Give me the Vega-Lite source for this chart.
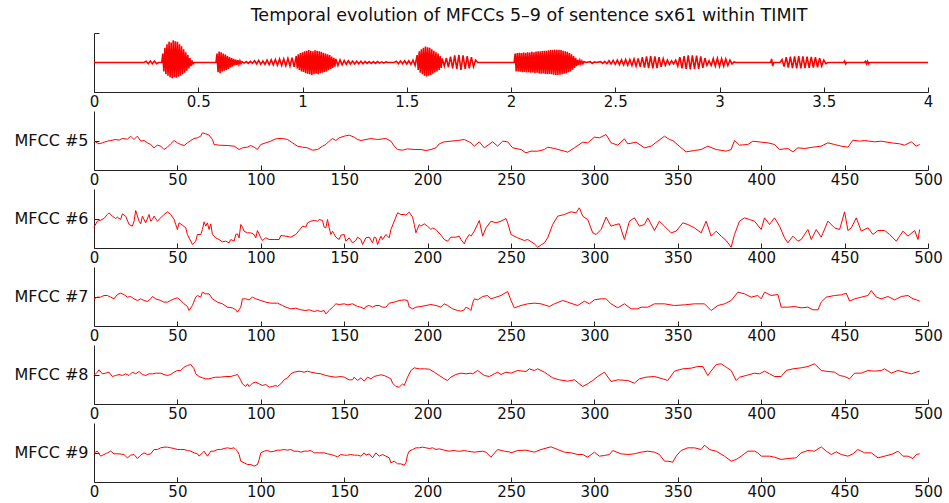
{
"$schema": "https://vega.github.io/schema/vega-lite/v6.json",
"background": "white",
"padding": {"left": 13, "top": 7, "right": 3, "bottom": 0},
"autosize": {"type": "pad"},
"bounds": "flush",
"spacing": 19,
"resolve": {"scale": {"x": "independent", "y": "independent"}},
"config": {
  "view": {"stroke": null},
  "axis": {"grid": false, "domainColor": "#222", "tickColor": "#222", "labelColor": "#111", "labelFont": "DejaVu Sans", "labelFontSize": 15, "tickSize": -5, "labelPadding": 7, "labelFlush": false, "labelOverlap": false, "labelBound": false, "domainWidth": 1, "tickWidth": 1, "title": null},
  "axisY": {"labelPadding": 11, "labelFontSize": 16}
},
"datasets": {
"wave": [
{"t":0,"s":0},{"t":0.24,"s":0},{"t":0.25,"s":0.04},{"t":0.26,"s":-0.04},{"t":0.27,"s":0.05},{"t":0.28,"s":-0.04},{"t":0.29,"s":0.05},{"t":0.30,"s":-0.04},{"t":0.31,"s":0},{"t":0.325,"s":0},
{"t":0.330,"s":0.30},{"t":0.335,"s":-0.30},{"t":0.340,"s":0.50},{"t":0.345,"s":-0.40},{"t":0.350,"s":0.62},{"t":0.355,"s":-0.45},{"t":0.360,"s":0.70},{"t":0.365,"s":-0.50},{"t":0.370,"s":0.68},{"t":0.375,"s":-0.53},{"t":0.380,"s":0.75},{"t":0.385,"s":-0.50},{"t":0.390,"s":0.72},{"t":0.395,"s":-0.52},{"t":0.400,"s":0.70},{"t":0.405,"s":-0.48},{"t":0.410,"s":0.62},{"t":0.415,"s":-0.45},{"t":0.420,"s":0.55},{"t":0.425,"s":-0.40},{"t":0.430,"s":0.45},{"t":0.435,"s":-0.35},{"t":0.440,"s":0.35},{"t":0.445,"s":-0.28},{"t":0.450,"s":0.25},{"t":0.455,"s":-0.20},{"t":0.460,"s":0.15},{"t":0.465,"s":-0.12},{"t":0.470,"s":0.07},{"t":0.475,"s":-0.05},{"t":0.480,"s":0},{"t":0.585,"s":0},
{"t":0.590,"s":0.30},{"t":0.595,"s":-0.33},{"t":0.600,"s":0.37},{"t":0.605,"s":-0.36},{"t":0.610,"s":0.35},{"t":0.615,"s":-0.30},{"t":0.620,"s":0.30},{"t":0.625,"s":-0.28},{"t":0.630,"s":0.27},{"t":0.635,"s":-0.25},{"t":0.640,"s":0.22},{"t":0.645,"s":-0.22},{"t":0.650,"s":0.18},{"t":0.655,"s":-0.17},{"t":0.660,"s":0.15},{"t":0.665,"s":-0.13},{"t":0.670,"s":0.12},{"t":0.675,"s":-0.10},{"t":0.680,"s":0.10},{"t":0.685,"s":-0.08},{"t":0.690,"s":0.08},{"t":0.695,"s":-0.06},{"t":0.700,"s":0.06},{"t":0.705,"s":-0.04},{"t":0.710,"s":0.03},
{"t":0.72,"s":-0.02},{"t":0.73,"s":0.03},{"t":0.74,"s":-0.03},{"t":0.75,"s":0.04},{"t":0.76,"s":-0.03},{"t":0.77,"s":0.06},{"t":0.78,"s":-0.05},{"t":0.79,"s":0.07},{"t":0.80,"s":-0.06},{"t":0.81,"s":0.05},{"t":0.82,"s":-0.06},{"t":0.83,"s":0.08},{"t":0.84,"s":-0.07},{"t":0.85,"s":0.09},{"t":0.86,"s":-0.08},{"t":0.87,"s":0.10},{"t":0.88,"s":-0.09},{"t":0.89,"s":0.12},{"t":0.90,"s":-0.10},{"t":0.91,"s":0.12},{"t":0.92,"s":-0.11},{"t":0.93,"s":0.14},{"t":0.94,"s":-0.12},{"t":0.95,"s":0.16},{"t":0.96,"s":-0.15},{"t":0.97,"s":0.22},
{"t":0.975,"s":-0.20},{"t":0.980,"s":0.28},{"t":0.985,"s":-0.25},{"t":0.990,"s":0.32},{"t":0.995,"s":-0.30},{"t":1.000,"s":0.35},{"t":1.005,"s":-0.32},{"t":1.010,"s":0.38},{"t":1.015,"s":-0.36},{"t":1.020,"s":0.40},{"t":1.025,"s":-0.38},{"t":1.030,"s":0.42},{"t":1.035,"s":-0.40},{"t":1.040,"s":0.40},{"t":1.045,"s":-0.42},{"t":1.050,"s":0.38},{"t":1.055,"s":-0.40},{"t":1.060,"s":0.41},{"t":1.065,"s":-0.38},{"t":1.070,"s":0.40},{"t":1.075,"s":-0.40},{"t":1.080,"s":0.38},{"t":1.085,"s":-0.36},{"t":1.090,"s":0.36},{"t":1.095,"s":-0.35},{"t":1.100,"s":0.33},{"t":1.105,"s":-0.32},{"t":1.110,"s":0.30},{"t":1.115,"s":-0.30},{"t":1.120,"s":0.28},{"t":1.125,"s":-0.26},{"t":1.130,"s":0.25},{"t":1.135,"s":-0.22},{"t":1.140,"s":0.20},{"t":1.145,"s":-0.18},{"t":1.150,"s":0.16},{"t":1.155,"s":-0.14},{"t":1.160,"s":0.12},
{"t":1.17,"s":-0.10},{"t":1.18,"s":0.09},{"t":1.19,"s":-0.08},{"t":1.20,"s":0.07},{"t":1.21,"s":-0.06},{"t":1.22,"s":0.06},{"t":1.23,"s":-0.05},{"t":1.24,"s":0.05},{"t":1.25,"s":-0.05},{"t":1.26,"s":0.04},{"t":1.27,"s":-0.04},{"t":1.28,"s":0.04},{"t":1.29,"s":-0.04},{"t":1.30,"s":0.04},{"t":1.31,"s":-0.03},{"t":1.32,"s":0.03},{"t":1.33,"s":-0.03},{"t":1.34,"s":0.03},{"t":1.35,"s":-0.03},{"t":1.36,"s":0.03},{"t":1.37,"s":-0.02},{"t":1.38,"s":0.02},{"t":1.39,"s":-0.02},{"t":1.40,"s":0.02},{"t":1.41,"s":0},{"t":1.44,"s":0},{"t":1.45,"s":0.04},{"t":1.46,"s":-0.04},{"t":1.47,"s":0.05},{"t":1.48,"s":-0.04},{"t":1.49,"s":0.06},{"t":1.50,"s":-0.05},{"t":1.51,"s":0.06},{"t":1.52,"s":-0.06},{"t":1.53,"s":0.08},{"t":1.54,"s":-0.10},
{"t":1.550,"s":0.25},{"t":1.555,"s":-0.25},{"t":1.560,"s":0.38},{"t":1.565,"s":-0.35},{"t":1.570,"s":0.45},{"t":1.575,"s":-0.40},{"t":1.580,"s":0.50},{"t":1.585,"s":-0.45},{"t":1.590,"s":0.54},{"t":1.595,"s":-0.47},{"t":1.600,"s":0.52},{"t":1.605,"s":-0.45},{"t":1.610,"s":0.50},{"t":1.615,"s":-0.42},{"t":1.620,"s":0.45},{"t":1.625,"s":-0.38},{"t":1.630,"s":0.40},{"t":1.635,"s":-0.34},{"t":1.640,"s":0.35},{"t":1.645,"s":-0.30},{"t":1.650,"s":0.30},{"t":1.655,"s":-0.25},{"t":1.660,"s":0.22},{"t":1.665,"s":-0.18},{"t":1.670,"s":0.14},
{"t":1.68,"s":-0.12},{"t":1.69,"s":0.15},{"t":1.70,"s":-0.16},{"t":1.71,"s":0.20},{"t":1.72,"s":-0.20},{"t":1.73,"s":0.24},{"t":1.74,"s":-0.22},{"t":1.75,"s":0.26},{"t":1.76,"s":-0.25},{"t":1.77,"s":0.24},{"t":1.78,"s":-0.22},{"t":1.79,"s":0.22},{"t":1.80,"s":-0.20},{"t":1.81,"s":0.18},{"t":1.82,"s":-0.14},{"t":1.83,"s":0.08},{"t":1.84,"s":0},{"t":2.015,"s":0},
{"t":2.020,"s":0.30},{"t":2.025,"s":-0.30},{"t":2.030,"s":0.32},{"t":2.035,"s":-0.30},{"t":2.040,"s":0.33},{"t":2.045,"s":-0.31},{"t":2.050,"s":0.32},{"t":2.055,"s":-0.33},{"t":2.060,"s":0.34},{"t":2.065,"s":-0.32},{"t":2.070,"s":0.33},{"t":2.075,"s":-0.34},{"t":2.080,"s":0.35},{"t":2.085,"s":-0.33},{"t":2.090,"s":0.34},{"t":2.095,"s":-0.35},{"t":2.100,"s":0.36},{"t":2.105,"s":-0.34},{"t":2.110,"s":0.35},{"t":2.115,"s":-0.36},{"t":2.120,"s":0.37},{"t":2.125,"s":-0.35},{"t":2.130,"s":0.38},{"t":2.135,"s":-0.37},{"t":2.140,"s":0.38},{"t":2.145,"s":-0.38},{"t":2.150,"s":0.39},{"t":2.155,"s":-0.37},{"t":2.160,"s":0.40},{"t":2.165,"s":-0.39},{"t":2.170,"s":0.40},{"t":2.175,"s":-0.40},{"t":2.180,"s":0.41},{"t":2.185,"s":-0.39},{"t":2.190,"s":0.42},{"t":2.195,"s":-0.40},{"t":2.200,"s":0.42},{"t":2.205,"s":-0.41},{"t":2.210,"s":0.43},{"t":2.215,"s":-0.42},{"t":2.220,"s":0.43},{"t":2.225,"s":-0.42},{"t":2.230,"s":0.43},{"t":2.235,"s":-0.41},{"t":2.240,"s":0.42},{"t":2.245,"s":-0.40},{"t":2.250,"s":0.40},{"t":2.255,"s":-0.38},{"t":2.260,"s":0.38},{"t":2.265,"s":-0.36},{"t":2.270,"s":0.36},{"t":2.275,"s":-0.33},{"t":2.280,"s":0.32},{"t":2.285,"s":-0.30},{"t":2.290,"s":0.28},{"t":2.295,"s":-0.24},{"t":2.300,"s":0.22},{"t":2.305,"s":-0.18},{"t":2.310,"s":0.16},{"t":2.315,"s":-0.12},{"t":2.320,"s":0.10},{"t":2.325,"s":-0.08},{"t":2.330,"s":0.07},{"t":2.335,"s":-0.05},{"t":2.340,"s":0.05},{"t":2.345,"s":-0.04},{"t":2.350,"s":0.03},{"t":2.36,"s":0},
{"t":2.38,"s":0.03},{"t":2.39,"s":-0.03},{"t":2.40,"s":0.02},{"t":2.41,"s":0},{"t":2.43,"s":0.03},{"t":2.44,"s":-0.03},{"t":2.45,"s":0.04},{"t":2.46,"s":-0.04},{"t":2.47,"s":0.06},{"t":2.48,"s":-0.05},{"t":2.49,"s":0.07},{"t":2.50,"s":-0.06},{"t":2.51,"s":0.08},{"t":2.52,"s":-0.07},{"t":2.53,"s":0.09},{"t":2.54,"s":-0.08},{"t":2.55,"s":0.10},{"t":2.56,"s":-0.09},{"t":2.57,"s":0.10},{"t":2.58,"s":-0.10},{"t":2.59,"s":0.12},{"t":2.60,"s":-0.12},{"t":2.61,"s":0.14},{"t":2.62,"s":-0.15},{"t":2.63,"s":0.18},{"t":2.64,"s":-0.17},{"t":2.65,"s":0.21},{"t":2.66,"s":-0.19},{"t":2.67,"s":0.22},{"t":2.68,"s":-0.20},{"t":2.69,"s":0.21},{"t":2.70,"s":-0.19},{"t":2.71,"s":0.18},{"t":2.72,"s":-0.15},{"t":2.73,"s":0.13},{"t":2.74,"s":-0.10},{"t":2.75,"s":0.08},{"t":2.76,"s":-0.07},{"t":2.77,"s":0.06},{"t":2.78,"s":-0.05},{"t":2.79,"s":0.08},
{"t":2.80,"s":-0.12},{"t":2.81,"s":0.18},{"t":2.82,"s":-0.20},{"t":2.83,"s":0.22},{"t":2.84,"s":-0.22},{"t":2.85,"s":0.24},{"t":2.86,"s":-0.23},{"t":2.87,"s":0.24},{"t":2.88,"s":-0.22},{"t":2.89,"s":0.23},{"t":2.90,"s":-0.22},{"t":2.91,"s":0.21},{"t":2.92,"s":-0.18},{"t":2.93,"s":0.15},{"t":2.94,"s":-0.10},{"t":2.95,"s":0.06},{"t":2.96,"s":-0.10},{"t":2.97,"s":0.13},{"t":2.98,"s":-0.12},{"t":2.99,"s":0.14},{"t":3.00,"s":-0.13},{"t":3.01,"s":0.13},{"t":3.02,"s":-0.12},{"t":3.03,"s":0.12},{"t":3.04,"s":-0.10},{"t":3.05,"s":0.08},{"t":3.06,"s":-0.05},{"t":3.07,"s":0.02},{"t":3.08,"s":0},
{"t":3.245,"s":0},{"t":3.25,"s":0.12},{"t":3.255,"s":-0.12},{"t":3.26,"s":0},{"t":3.29,"s":0},{"t":3.30,"s":0.10},{"t":3.31,"s":-0.14},{"t":3.32,"s":0.18},{"t":3.33,"s":-0.17},{"t":3.34,"s":0.20},{"t":3.35,"s":-0.19},{"t":3.36,"s":0.21},{"t":3.37,"s":-0.20},{"t":3.38,"s":0.22},{"t":3.39,"s":-0.20},{"t":3.40,"s":0.21},{"t":3.41,"s":-0.19},{"t":3.42,"s":0.20},{"t":3.43,"s":-0.18},{"t":3.44,"s":0.19},{"t":3.45,"s":-0.17},{"t":3.46,"s":0.18},{"t":3.47,"s":-0.16},{"t":3.48,"s":0.15},{"t":3.49,"s":-0.12},{"t":3.50,"s":0.08},{"t":3.51,"s":-0.04},{"t":3.52,"s":0},
{"t":3.595,"s":0},{"t":3.60,"s":0.05},{"t":3.605,"s":-0.05},{"t":3.61,"s":0},{"t":3.695,"s":0},{"t":3.70,"s":0.04},{"t":3.705,"s":-0.04},{"t":3.71,"s":0.04},{"t":3.715,"s":-0.04},{"t":3.72,"s":0},{"t":4,"s":0}
],
"m5": [
{"f":0,"v":-2},{"f":3,"v":-10},{"f":5,"v":-7},{"f":8,"v":-2},{"f":10,"v":0},{"f":13,"v":3},{"f":15,"v":1},{"f":17,"v":6},{"f":20,"v":4},{"f":22,"v":13},{"f":24,"v":3},{"f":26,"v":13},{"f":28,"v":-2},{"f":30,"v":0},{"f":32,"v":-7},{"f":34,"v":-12},{"f":36,"v":-22},{"f":38,"v":-14},{"f":40,"v":-17},{"f":42,"v":-27},{"f":44,"v":-20},{"f":46,"v":-10},{"f":48,"v":0},{"f":50,"v":-7},{"f":52,"v":-12},{"f":54,"v":-15},{"f":56,"v":-7},{"f":58,"v":0},{"f":60,"v":6},{"f":62,"v":8},{"f":64,"v":13},{"f":65,"v":23},{"f":67,"v":20},{"f":69,"v":16},{"f":71,"v":3},{"f":72,"v":-12},{"f":75,"v":-14},{"f":80,"v":-15},{"f":84,"v":-17},{"f":87,"v":-27},{"f":89,"v":-22},{"f":92,"v":-20},{"f":94,"v":-15},{"f":96,"v":-20},{"f":98,"v":-27},{"f":100,"v":-12},{"f":103,"v":-7},{"f":106,"v":-2},{"f":108,"v":3},{"f":110,"v":6},{"f":113,"v":6},{"f":116,"v":3},{"f":119,"v":-7},{"f":122,"v":-17},{"f":125,"v":-20},{"f":128,"v":-22},{"f":131,"v":-29},{"f":134,"v":-27},{"f":137,"v":-17},{"f":139,"v":-12},{"f":141,"v":-2},{"f":143,"v":6},{"f":145,"v":0},{"f":147,"v":8},{"f":150,"v":13},{"f":153,"v":16},{"f":156,"v":10},{"f":158,"v":3},{"f":160,"v":0},{"f":163,"v":3},{"f":166,"v":6},{"f":170,"v":3},{"f":175,"v":6},{"f":178,"v":-2},{"f":180,"v":-17},{"f":182,"v":-27},{"f":185,"v":-29},{"f":188,"v":-25},{"f":192,"v":-27},{"f":196,"v":-27},{"f":199,"v":-30},{"f":202,"v":-27},{"f":205,"v":-22},{"f":207,"v":-10},{"f":210,"v":-4},{"f":214,"v":-2},{"f":218,"v":0},{"f":222,"v":3},{"f":224,"v":-2},{"f":226,"v":-7},{"f":228,"v":-17},{"f":231,"v":-4},{"f":234,"v":-22},{"f":239,"v":-4},{"f":242,"v":-17},{"f":245,"v":-2},{"f":248,"v":-4},{"f":251,"v":-22},{"f":256,"v":-27},{"f":259,"v":-37},{"f":262,"v":-32},{"f":266,"v":-32},{"f":270,"v":-27},{"f":272,"v":-20},{"f":276,"v":-24},{"f":282,"v":-32},{"f":284,"v":-35},{"f":288,"v":-22},{"f":293,"v":-5},{"f":296,"v":-7},{"f":300,"v":10},{"f":303,"v":8},{"f":307,"v":18},{"f":310,"v":-7},{"f":314,"v":-14},{"f":318,"v":5},{"f":320,"v":-10},{"f":325,"v":-5},{"f":330,"v":-22},{"f":334,"v":-17},{"f":338,"v":-2},{"f":342,"v":13},{"f":345,"v":3},{"f":347,"v":0},{"f":352,"v":-22},{"f":355,"v":-34},{"f":360,"v":-30},{"f":364,"v":-27},{"f":368,"v":-17},{"f":373,"v":-27},{"f":379,"v":-32},{"f":382,"v":-27},{"f":384,"v":0},{"f":387,"v":-14},{"f":392,"v":-12},{"f":395,"v":-2},{"f":400,"v":-5},{"f":404,"v":-7},{"f":408,"v":-12},{"f":411,"v":-27},{"f":416,"v":-24},{"f":419,"v":-34},{"f":422,"v":-22},{"f":426,"v":-24},{"f":431,"v":-20},{"f":436,"v":-17},{"f":440,"v":-7},{"f":444,"v":-12},{"f":448,"v":-17},{"f":452,"v":-20},{"f":455,"v":1},{"f":459,"v":-2},{"f":462,"v":0},{"f":468,"v":-4},{"f":472,"v":-2},{"f":478,"v":-7},{"f":483,"v":-10},{"f":486,"v":-14},{"f":490,"v":-4},{"f":493,"v":-17},{"f":495,"v":-12}
],
"m6": [
{"f":0,"v":-26},{"f":2,"v":-8},{"f":4,"v":-5},{"f":6,"v":0},{"f":8,"v":12},{"f":9,"v":17},{"f":11,"v":7},{"f":13,"v":0},{"f":14,"v":4},{"f":16,"v":-3},{"f":17,"v":14},{"f":19,"v":7},{"f":21,"v":-18},{"f":23,"v":-23},{"f":24,"v":-8},{"f":25,"v":24},{"f":27,"v":-8},{"f":28,"v":-16},{"f":29,"v":7},{"f":31,"v":-13},{"f":33,"v":12},{"f":34,"v":-8},{"f":35,"v":-3},{"f":36,"v":7},{"f":38,"v":-8},{"f":40,"v":2},{"f":42,"v":12},{"f":44,"v":20},{"f":46,"v":12},{"f":48,"v":-3},{"f":49,"v":-18},{"f":50,"v":-33},{"f":51,"v":-13},{"f":53,"v":-20},{"f":55,"v":-28},{"f":56,"v":-48},{"f":58,"v":-68},{"f":59,"v":-78},{"f":61,"v":-68},{"f":62,"v":-48},{"f":64,"v":-48},{"f":65,"v":-33},{"f":66,"v":-10},{"f":67,"v":-23},{"f":68,"v":-13},{"f":69,"v":-33},{"f":70,"v":-16},{"f":71,"v":-48},{"f":73,"v":-58},{"f":75,"v":-63},{"f":77,"v":-70},{"f":79,"v":-68},{"f":81,"v":-73},{"f":82,"v":-63},{"f":84,"v":-68},{"f":85,"v":-48},{"f":86,"v":-46},{"f":87,"v":-58},{"f":88,"v":-18},{"f":89,"v":-26},{"f":90,"v":-38},{"f":92,"v":-43},{"f":94,"v":-43},{"f":96,"v":-48},{"f":97,"v":-58},{"f":98,"v":-36},{"f":100,"v":-58},{"f":101,"v":-66},{"f":103,"v":-58},{"f":105,"v":-63},{"f":108,"v":-63},{"f":111,"v":-63},{"f":112,"v":-51},{"f":115,"v":-53},{"f":118,"v":-56},{"f":121,"v":-48},{"f":123,"v":-36},{"f":125,"v":-23},{"f":127,"v":-26},{"f":128,"v":-13},{"f":130,"v":-8},{"f":132,"v":-6},{"f":134,"v":-8},{"f":135,"v":-3},{"f":137,"v":-6},{"f":138,"v":-26},{"f":139,"v":-28},{"f":140,"v":-3},{"f":141,"v":-28},{"f":142,"v":-48},{"f":143,"v":-38},{"f":145,"v":-56},{"f":147,"v":-63},{"f":148,"v":-50},{"f":150,"v":-48},{"f":151,"v":-68},{"f":153,"v":-58},{"f":155,"v":-73},{"f":157,"v":-66},{"f":158,"v":-56},{"f":160,"v":-63},{"f":161,"v":-78},{"f":163,"v":-58},{"f":165,"v":-56},{"f":167,"v":-73},{"f":168,"v":-56},{"f":169,"v":-58},{"f":170,"v":-78},{"f":172,"v":-53},{"f":173,"v":-63},{"f":175,"v":-48},{"f":177,"v":-58},{"f":178,"v":-33},{"f":180,"v":-8},{"f":182,"v":17},{"f":184,"v":12},{"f":186,"v":12},{"f":187,"v":10},{"f":189,"v":19},{"f":191,"v":4},{"f":192,"v":-18},{"f":193,"v":-43},{"f":195,"v":-18},{"f":196,"v":-23},{"f":198,"v":-16},{"f":200,"v":-23},{"f":202,"v":-33},{"f":203,"v":-28},{"f":205,"v":-33},{"f":208,"v":-50},{"f":210,"v":-63},{"f":212,"v":-68},{"f":214,"v":-56},{"f":217,"v":-56},{"f":219,"v":-53},{"f":220,"v":-63},{"f":222,"v":-76},{"f":223,"v":-63},{"f":225,"v":-48},{"f":226,"v":-53},{"f":228,"v":-38},{"f":231,"v":-6},{"f":233,"v":-53},{"f":235,"v":-28},{"f":238,"v":-8},{"f":241,"v":-13},{"f":244,"v":-8},{"f":247,"v":0},{"f":248,"v":-13},{"f":250,"v":-48},{"f":254,"v":-58},{"f":258,"v":-66},{"f":260,"v":-63},{"f":264,"v":-76},{"f":266,"v":-86},{"f":270,"v":-73},{"f":272,"v":-58},{"f":275,"v":-18},{"f":278,"v":7},{"f":282,"v":12},{"f":286,"v":20},{"f":289,"v":17},{"f":291,"v":32},{"f":293,"v":7},{"f":296,"v":-3},{"f":299,"v":-43},{"f":301,"v":-48},{"f":304,"v":-33},{"f":307,"v":4},{"f":310,"v":-23},{"f":313,"v":-18},{"f":315,"v":-16},{"f":318,"v":-63},{"f":321,"v":-8},{"f":324,"v":2},{"f":327,"v":-23},{"f":330,"v":-18},{"f":332,"v":2},{"f":336,"v":-36},{"f":339,"v":-8},{"f":342,"v":-23},{"f":346,"v":-43},{"f":349,"v":-38},{"f":353,"v":-13},{"f":356,"v":-18},{"f":360,"v":-28},{"f":364,"v":-43},{"f":367,"v":-8},{"f":370,"v":-53},{"f":373,"v":-38},{"f":376,"v":-53},{"f":379,"v":-66},{"f":382,"v":-86},{"f":384,"v":-48},{"f":387,"v":-8},{"f":390,"v":2},{"f":393,"v":-3},{"f":396,"v":-8},{"f":400,"v":-33},{"f":402,"v":2},{"f":405,"v":-18},{"f":408,"v":2},{"f":411,"v":-23},{"f":414,"v":-58},{"f":416,"v":-73},{"f":419,"v":-53},{"f":422,"v":-68},{"f":424,"v":-63},{"f":428,"v":-33},{"f":430,"v":-63},{"f":433,"v":-33},{"f":436,"v":-56},{"f":440,"v":-8},{"f":444,"v":-28},{"f":447,"v":-33},{"f":450,"v":20},{"f":452,"v":-36},{"f":454,"v":-28},{"f":457,"v":2},{"f":460,"v":-38},{"f":464,"v":-28},{"f":467,"v":-48},{"f":470,"v":-36},{"f":474,"v":-36},{"f":477,"v":-48},{"f":481,"v":-68},{"f":485,"v":-38},{"f":488,"v":-53},{"f":492,"v":-36},{"f":494,"v":-63},{"f":495,"v":-33}
],
"m7": [
{"f":0,"v":-7},{"f":2,"v":-2},{"f":4,"v":-2},{"f":6,"v":3},{"f":8,"v":3},{"f":10,"v":-2},{"f":12,"v":-7},{"f":14,"v":6},{"f":16,"v":10},{"f":18,"v":6},{"f":20,"v":-2},{"f":22,"v":0},{"f":24,"v":-7},{"f":26,"v":-12},{"f":28,"v":-7},{"f":30,"v":-12},{"f":32,"v":-15},{"f":34,"v":-7},{"f":35,"v":0},{"f":37,"v":-7},{"f":40,"v":-12},{"f":42,"v":-17},{"f":44,"v":-17},{"f":46,"v":-12},{"f":48,"v":-7},{"f":50,"v":-4},{"f":52,"v":-12},{"f":54,"v":-22},{"f":56,"v":-30},{"f":57,"v":-42},{"f":59,"v":-27},{"f":61,"v":-2},{"f":62,"v":3},{"f":64,"v":-2},{"f":65,"v":13},{"f":67,"v":8},{"f":69,"v":8},{"f":71,"v":-7},{"f":74,"v":-17},{"f":77,"v":-22},{"f":80,"v":-32},{"f":83,"v":-34},{"f":85,"v":-40},{"f":86,"v":-47},{"f":88,"v":-32},{"f":89,"v":-7},{"f":91,"v":-7},{"f":93,"v":-10},{"f":95,"v":-2},{"f":97,"v":-7},{"f":100,"v":-12},{"f":103,"v":-17},{"f":106,"v":-20},{"f":110,"v":-20},{"f":113,"v":-27},{"f":115,"v":-32},{"f":118,"v":-37},{"f":121,"v":-35},{"f":124,"v":-40},{"f":127,"v":-42},{"f":129,"v":-40},{"f":132,"v":-45},{"f":134,"v":-42},{"f":136,"v":-45},{"f":138,"v":-42},{"f":139,"v":-52},{"f":141,"v":-42},{"f":143,"v":-32},{"f":145,"v":-22},{"f":147,"v":-24},{"f":150,"v":-22},{"f":152,"v":-25},{"f":155,"v":-22},{"f":158,"v":-30},{"f":160,"v":-32},{"f":162,"v":-37},{"f":163,"v":-30},{"f":165,"v":-27},{"f":167,"v":-32},{"f":169,"v":-27},{"f":171,"v":-27},{"f":173,"v":-32},{"f":175,"v":-32},{"f":177,"v":-20},{"f":180,"v":-17},{"f":183,"v":-12},{"f":186,"v":-10},{"f":188,"v":-12},{"f":189,"v":-32},{"f":191,"v":-37},{"f":193,"v":-32},{"f":196,"v":-30},{"f":199,"v":-27},{"f":202,"v":-24},{"f":205,"v":-27},{"f":208,"v":-32},{"f":210,"v":-22},{"f":212,"v":-27},{"f":215,"v":-37},{"f":218,"v":-42},{"f":220,"v":-44},{"f":222,"v":-40},{"f":223,"v":-32},{"f":225,"v":-37},{"f":226,"v":-42},{"f":227,"v":-20},{"f":228,"v":-7},{"f":230,"v":-10},{"f":233,"v":0},{"f":236,"v":3},{"f":238,"v":-7},{"f":241,"v":-2},{"f":244,"v":3},{"f":248,"v":15},{"f":250,"v":-12},{"f":252,"v":-34},{"f":256,"v":-27},{"f":260,"v":-22},{"f":264,"v":-20},{"f":268,"v":-22},{"f":273,"v":-30},{"f":276,"v":-22},{"f":281,"v":-12},{"f":284,"v":-17},{"f":290,"v":-27},{"f":294,"v":-14},{"f":297,"v":-22},{"f":300,"v":-10},{"f":304,"v":-7},{"f":307,"v":-7},{"f":310,"v":-22},{"f":314,"v":-34},{"f":318,"v":-22},{"f":322,"v":-37},{"f":326,"v":-37},{"f":328,"v":-32},{"f":332,"v":-32},{"f":336,"v":-22},{"f":342,"v":-22},{"f":348,"v":-27},{"f":354,"v":-25},{"f":360,"v":-22},{"f":366,"v":-22},{"f":370,"v":-42},{"f":374,"v":-27},{"f":378,"v":-22},{"f":382,"v":-12},{"f":386,"v":13},{"f":390,"v":8},{"f":394,"v":-2},{"f":398,"v":3},{"f":400,"v":-7},{"f":402,"v":13},{"f":406,"v":3},{"f":410,"v":6},{"f":412,"v":-32},{"f":416,"v":-32},{"f":420,"v":-30},{"f":424,"v":-34},{"f":428,"v":-32},{"f":431,"v":-40},{"f":434,"v":-40},{"f":436,"v":-17},{"f":439,"v":-2},{"f":444,"v":3},{"f":448,"v":5},{"f":451,"v":10},{"f":453,"v":-14},{"f":456,"v":-7},{"f":460,"v":-2},{"f":464,"v":3},{"f":466,"v":18},{"f":469,"v":-2},{"f":472,"v":-7},{"f":476,"v":0},{"f":480,"v":-10},{"f":484,"v":0},{"f":488,"v":3},{"f":491,"v":-7},{"f":493,"v":-10},{"f":495,"v":-14}
],
"m8": [
{"f":0,"v":-3},{"f":2,"v":7},{"f":3,"v":14},{"f":5,"v":2},{"f":7,"v":4},{"f":9,"v":7},{"f":11,"v":-6},{"f":13,"v":-3},{"f":15,"v":0},{"f":17,"v":-3},{"f":19,"v":2},{"f":21,"v":-3},{"f":23,"v":7},{"f":25,"v":2},{"f":27,"v":9},{"f":29,"v":0},{"f":31,"v":-3},{"f":33,"v":2},{"f":35,"v":2},{"f":37,"v":4},{"f":40,"v":4},{"f":42,"v":0},{"f":44,"v":-3},{"f":46,"v":0},{"f":48,"v":7},{"f":50,"v":12},{"f":52,"v":12},{"f":54,"v":22},{"f":56,"v":27},{"f":58,"v":30},{"f":60,"v":17},{"f":61,"v":2},{"f":63,"v":-6},{"f":65,"v":-10},{"f":67,"v":-13},{"f":69,"v":-13},{"f":71,"v":-10},{"f":73,"v":-8},{"f":76,"v":-8},{"f":79,"v":-6},{"f":82,"v":-6},{"f":84,"v":-3},{"f":86,"v":0},{"f":87,"v":-8},{"f":88,"v":-18},{"f":89,"v":-28},{"f":91,"v":-36},{"f":92,"v":-28},{"f":93,"v":-36},{"f":95,"v":-26},{"f":97,"v":-23},{"f":99,"v":-28},{"f":101,"v":-33},{"f":103,"v":-30},{"f":105,"v":-38},{"f":107,"v":-36},{"f":109,"v":-33},{"f":110,"v":-36},{"f":112,"v":-28},{"f":114,"v":-16},{"f":116,"v":-10},{"f":118,"v":2},{"f":120,"v":7},{"f":123,"v":10},{"f":126,"v":7},{"f":128,"v":10},{"f":130,"v":7},{"f":133,"v":4},{"f":136,"v":2},{"f":139,"v":-3},{"f":142,"v":-6},{"f":145,"v":-8},{"f":148,"v":-6},{"f":150,"v":-8},{"f":153,"v":-16},{"f":155,"v":-16},{"f":156,"v":-8},{"f":158,"v":-18},{"f":160,"v":-10},{"f":162,"v":-20},{"f":164,"v":-8},{"f":166,"v":-13},{"f":168,"v":-6},{"f":170,"v":-3},{"f":172,"v":-1},{"f":174,"v":-3},{"f":176,"v":-8},{"f":178,"v":-13},{"f":179,"v":-26},{"f":181,"v":-36},{"f":183,"v":-38},{"f":185,"v":-28},{"f":186,"v":-33},{"f":188,"v":-8},{"f":190,"v":12},{"f":192,"v":20},{"f":195,"v":17},{"f":198,"v":17},{"f":201,"v":16},{"f":204,"v":7},{"f":207,"v":-3},{"f":210,"v":-13},{"f":212,"v":-18},{"f":214,"v":-8},{"f":217,"v":0},{"f":220,"v":4},{"f":223,"v":2},{"f":226,"v":4},{"f":227,"v":2},{"f":230,"v":12},{"f":234,"v":-3},{"f":237,"v":-6},{"f":240,"v":2},{"f":242,"v":7},{"f":244,"v":0},{"f":247,"v":7},{"f":250,"v":4},{"f":254,"v":12},{"f":259,"v":9},{"f":261,"v":17},{"f":264,"v":12},{"f":266,"v":17},{"f":270,"v":7},{"f":275,"v":-10},{"f":279,"v":-16},{"f":284,"v":-20},{"f":288,"v":-16},{"f":293,"v":-36},{"f":296,"v":-28},{"f":299,"v":-18},{"f":302,"v":-6},{"f":306,"v":7},{"f":310,"v":-21},{"f":314,"v":-16},{"f":320,"v":-18},{"f":324,"v":-26},{"f":327,"v":-13},{"f":331,"v":-8},{"f":336,"v":-6},{"f":341,"v":-13},{"f":344,"v":-18},{"f":348,"v":10},{"f":353,"v":17},{"f":358,"v":19},{"f":362,"v":24},{"f":365,"v":24},{"f":368,"v":-3},{"f":371,"v":17},{"f":373,"v":30},{"f":376,"v":32},{"f":379,"v":22},{"f":382,"v":12},{"f":385,"v":-18},{"f":387,"v":-8},{"f":391,"v":-3},{"f":396,"v":4},{"f":399,"v":2},{"f":402,"v":10},{"f":405,"v":2},{"f":408,"v":-6},{"f":412,"v":-6},{"f":415,"v":12},{"f":419,"v":17},{"f":424,"v":20},{"f":428,"v":24},{"f":432,"v":32},{"f":436,"v":12},{"f":440,"v":9},{"f":444,"v":7},{"f":447,"v":-3},{"f":450,"v":-6},{"f":453,"v":-13},{"f":456,"v":4},{"f":460,"v":4},{"f":464,"v":12},{"f":468,"v":10},{"f":472,"v":12},{"f":474,"v":17},{"f":478,"v":4},{"f":482,"v":12},{"f":486,"v":7},{"f":490,"v":2},{"f":493,"v":7},{"f":495,"v":10}
],
"m9": [
{"f":0,"v":-1},{"f":2,"v":4},{"f":4,"v":-11},{"f":6,"v":-6},{"f":8,"v":-1},{"f":10,"v":4},{"f":12,"v":-4},{"f":15,"v":-4},{"f":18,"v":-6},{"f":20,"v":-16},{"f":22,"v":-8},{"f":24,"v":-6},{"f":26,"v":-18},{"f":28,"v":-8},{"f":30,"v":-1},{"f":32,"v":-6},{"f":34,"v":-4},{"f":36,"v":9},{"f":38,"v":9},{"f":40,"v":14},{"f":42,"v":16},{"f":44,"v":16},{"f":46,"v":14},{"f":48,"v":12},{"f":50,"v":9},{"f":52,"v":9},{"f":54,"v":9},{"f":56,"v":6},{"f":58,"v":4},{"f":60,"v":-1},{"f":62,"v":-4},{"f":63,"v":-11},{"f":65,"v":-1},{"f":66,"v":4},{"f":68,"v":-11},{"f":69,"v":-4},{"f":70,"v":4},{"f":72,"v":4},{"f":74,"v":9},{"f":76,"v":9},{"f":78,"v":12},{"f":80,"v":14},{"f":82,"v":12},{"f":84,"v":14},{"f":85,"v":9},{"f":86,"v":4},{"f":87,"v":-6},{"f":88,"v":-26},{"f":90,"v":-31},{"f":92,"v":-36},{"f":94,"v":-36},{"f":96,"v":-41},{"f":98,"v":-36},{"f":99,"v":-21},{"f":100,"v":-1},{"f":102,"v":4},{"f":104,"v":6},{"f":106,"v":2},{"f":108,"v":4},{"f":110,"v":7},{"f":112,"v":7},{"f":114,"v":9},{"f":116,"v":7},{"f":118,"v":9},{"f":120,"v":4},{"f":122,"v":4},{"f":124,"v":1},{"f":126,"v":4},{"f":128,"v":4},{"f":130,"v":6},{"f":132,"v":-1},{"f":135,"v":-1},{"f":138,"v":-1},{"f":140,"v":-4},{"f":142,"v":-6},{"f":144,"v":-9},{"f":146,"v":-13},{"f":148,"v":-6},{"f":150,"v":-8},{"f":152,"v":-8},{"f":154,"v":-6},{"f":156,"v":-8},{"f":158,"v":-8},{"f":160,"v":-11},{"f":162,"v":-1},{"f":163,"v":-8},{"f":165,"v":-4},{"f":167,"v":-16},{"f":169,"v":-1},{"f":171,"v":-11},{"f":173,"v":-6},{"f":175,"v":-11},{"f":177,"v":-16},{"f":178,"v":-31},{"f":180,"v":-26},{"f":182,"v":-34},{"f":184,"v":-34},{"f":186,"v":-38},{"f":187,"v":-31},{"f":188,"v":-6},{"f":189,"v":4},{"f":191,"v":9},{"f":193,"v":14},{"f":195,"v":14},{"f":197,"v":16},{"f":199,"v":14},{"f":201,"v":12},{"f":203,"v":14},{"f":205,"v":9},{"f":207,"v":11},{"f":210,"v":7},{"f":213,"v":4},{"f":216,"v":6},{"f":218,"v":4},{"f":220,"v":4},{"f":222,"v":6},{"f":224,"v":4},{"f":228,"v":1},{"f":233,"v":4},{"f":235,"v":1},{"f":238,"v":-14},{"f":242,"v":9},{"f":246,"v":4},{"f":249,"v":2},{"f":250,"v":-1},{"f":254,"v":6},{"f":259,"v":7},{"f":264,"v":1},{"f":268,"v":9},{"f":274,"v":17},{"f":278,"v":9},{"f":282,"v":1},{"f":286,"v":-1},{"f":290,"v":-6},{"f":293,"v":-6},{"f":296,"v":-14},{"f":300,"v":1},{"f":303,"v":-11},{"f":306,"v":-9},{"f":309,"v":-6},{"f":311,"v":6},{"f":316,"v":-4},{"f":320,"v":-6},{"f":324,"v":-4},{"f":328,"v":1},{"f":332,"v":4},{"f":336,"v":1},{"f":339,"v":-6},{"f":342,"v":-26},{"f":344,"v":-26},{"f":347,"v":-29},{"f":349,"v":-11},{"f":352,"v":6},{"f":356,"v":14},{"f":360,"v":14},{"f":364,"v":9},{"f":366,"v":22},{"f":369,"v":9},{"f":373,"v":4},{"f":378,"v":-11},{"f":382,"v":-26},{"f":385,"v":-21},{"f":388,"v":-11},{"f":392,"v":4},{"f":396,"v":4},{"f":398,"v":-1},{"f":400,"v":-11},{"f":405,"v":-11},{"f":408,"v":-14},{"f":412,"v":-21},{"f":416,"v":-18},{"f":421,"v":-16},{"f":424,"v":-1},{"f":428,"v":6},{"f":432,"v":4},{"f":436,"v":17},{"f":439,"v":4},{"f":442,"v":-6},{"f":445,"v":2},{"f":448,"v":-6},{"f":452,"v":-11},{"f":455,"v":-4},{"f":458,"v":9},{"f":462,"v":-1},{"f":466,"v":-1},{"f":470,"v":-16},{"f":474,"v":-11},{"f":479,"v":-4},{"f":482,"v":4},{"f":485,"v":-11},{"f":488,"v":-11},{"f":491,"v":-18},{"f":493,"v":-6},{"f":495,"v":-4}
]
},
"vconcat": [
{
  "title": {"text": "Temporal evolution of MFCCs 5–9 of sentence sx61 within TIMIT", "font": "DejaVu Sans", "fontSize": 17.5, "fontWeight": "normal", "color": "#111", "offset": 8, "frame": "group", "anchor": "middle", "dx": 18},
  "width": 834, "height": 59,
  "data": {"name": "wave"},
  "mark": {"type": "line", "color": "#ff0000", "strokeWidth": 1.6},
  "encoding": {
    "x": {"field": "t", "type": "quantitative", "scale": {"domain": [0, 4], "nice": false, "zero": false}, "axis": {"values": [0, 0.5, 1, 1.5, 2, 2.5, 3, 3.5, 4], "format": "~g"}},
    "y": {"field": "s", "type": "quantitative", "scale": {"domain": [-1, 1], "nice": false, "zero": false}, "axis": {"values": [1], "labels": false}}
  }
},
{
  "width": 834, "height": 59,
  "data": {"name": "m5"},
  "mark": {"type": "line", "color": "#ff0000", "strokeWidth": 1},
  "encoding": {
    "x": {"field": "f", "type": "quantitative", "scale": {"domain": [0, 500], "nice": false, "zero": false}, "axis": {"values": [0, 50, 100, 150, 200, 250, 300, 350, 400, 450, 500]}},
    "y": {"field": "v", "type": "quantitative", "scale": {"domain": [-88.5, 88.5], "nice": false, "zero": false}, "axis": {"values": [0], "labelExpr": "'MFCC #5'"}}
  }
},
{
  "width": 834, "height": 59,
  "data": {"name": "m6"},
  "mark": {"type": "line", "color": "#ff0000", "strokeWidth": 1},
  "encoding": {
    "x": {"field": "f", "type": "quantitative", "scale": {"domain": [0, 500], "nice": false, "zero": false}, "axis": {"values": [0, 50, 100, 150, 200, 250, 300, 350, 400, 450, 500]}},
    "y": {"field": "v", "type": "quantitative", "scale": {"domain": [-88.5, 88.5], "nice": false, "zero": false}, "axis": {"values": [0], "labelExpr": "'MFCC #6'"}}
  }
},
{
  "width": 834, "height": 59,
  "data": {"name": "m7"},
  "mark": {"type": "line", "color": "#ff0000", "strokeWidth": 1},
  "encoding": {
    "x": {"field": "f", "type": "quantitative", "scale": {"domain": [0, 500], "nice": false, "zero": false}, "axis": {"values": [0, 50, 100, 150, 200, 250, 300, 350, 400, 450, 500]}},
    "y": {"field": "v", "type": "quantitative", "scale": {"domain": [-88.5, 88.5], "nice": false, "zero": false}, "axis": {"values": [0], "labelExpr": "'MFCC #7'"}}
  }
},
{
  "width": 834, "height": 59,
  "data": {"name": "m8"},
  "mark": {"type": "line", "color": "#ff0000", "strokeWidth": 1},
  "encoding": {
    "x": {"field": "f", "type": "quantitative", "scale": {"domain": [0, 500], "nice": false, "zero": false}, "axis": {"values": [0, 50, 100, 150, 200, 250, 300, 350, 400, 450, 500]}},
    "y": {"field": "v", "type": "quantitative", "scale": {"domain": [-88.5, 88.5], "nice": false, "zero": false}, "axis": {"values": [0], "labelExpr": "'MFCC #8'"}}
  }
},
{
  "width": 834, "height": 59,
  "data": {"name": "m9"},
  "mark": {"type": "line", "color": "#ff0000", "strokeWidth": 1},
  "encoding": {
    "x": {"field": "f", "type": "quantitative", "scale": {"domain": [0, 500], "nice": false, "zero": false}, "axis": {"values": [0, 50, 100, 150, 200, 250, 300, 350, 400, 450, 500]}},
    "y": {"field": "v", "type": "quantitative", "scale": {"domain": [-88.5, 88.5], "nice": false, "zero": false}, "axis": {"values": [0], "labelExpr": "'MFCC #9'"}}
  }
}
]
}
